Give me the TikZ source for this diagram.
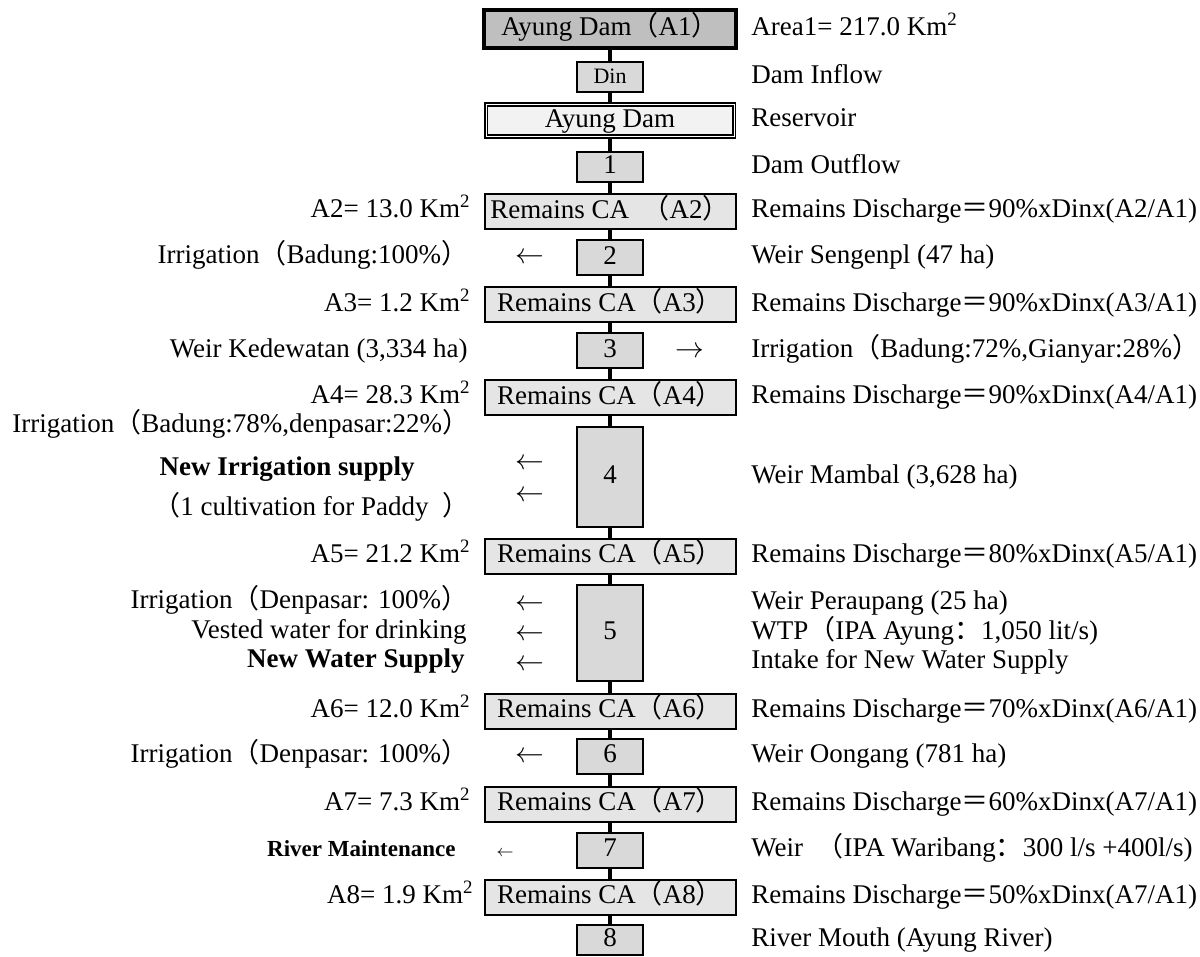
\documentclass[tikz,border=0pt]{standalone}
\usepackage{fontspec}
\setmainfont{Liberation Serif}
\newfontfamily\cjk{Noto Sans CJK SC}
\newcommand{\zkl}{{\cjk （}}
\newcommand{\zkr}{{\cjk ）}}
\newcommand{\zkre}{{\cjk ）}\kern-.5em}
\newcommand{\zeq}{{\cjk ＝}}
\newcommand{\zco}{{\cjk ：}}
\newcommand{\sqkm}{Km\textsuperscript{2}}

\begin{document}
\begin{tikzpicture}[x=0.5pt,y=-0.5pt,font=\fontsize{13.5}{16}\selectfont]
   \tikzstyle{box}=[draw,line width=1pt,inner sep=0pt,minimum width=125.5pt,minimum height=17.5pt,
                    text height=.86em,text depth=.2em,fill=gray!20]
   \tikzstyle{gate}=[box,minimum width=33pt,fill=gray!30]
   \tikzstyle{lbl}=[inner sep=0pt,text height=.86em,text depth=.2em]
   \tikzstyle{trunk}=[line width=2.3pt]

   \useasboundingbox (0,0) rectangle (1200,957);

   % main column
   \node[box,line width=2pt,fill=gray!50,minimum width=126pt,minimum height=19pt] (A1) at (610,29) {Ayung Dam\zkl A1\zkr};
   \node[gate,minimum height=15pt,font=\fontsize{11}{13}\selectfont] (Din) at (610,77) {Din};
   \node[box,fill=gray!10,double,line width=.9pt,double distance=.35pt,minimum width=124pt,minimum height=16pt] (Dam) at (610,120.5) {Ayung Dam};
   \node[gate,minimum height=15pt] (G1) at (610,167) {1};
   \node[box] (C2) at (610,211.5) {Remains CA \ \zkl A2\zkr};
   \node[gate,minimum height=17.5pt] (G2) at (610,257.5) {2};
   \node[box] (C3) at (610,305) {Remains CA\zkl A3\zkr};
   \node[gate] (G3) at (610,351) {3};
   \node[box] (C4) at (610,397.5) {Remains CA\zkl A4\zkr};
   \node[gate,minimum height=50pt] (G4) at (610,477) {4};
   \node[box] (C5) at (610,556) {Remains CA\zkl A5\zkr};
   \node[gate,minimum height=48pt] (G5) at (610,633) {5};
   \node[box] (C6) at (610,711) {Remains CA\zkl A6\zkr};
   \node[gate] (G6) at (610,756) {6};
   \node[box] (C7) at (610,804) {Remains CA\zkl A7\zkr};
   \node[gate] (G7) at (610,850) {7};
   \node[box] (C8) at (610,897) {Remains CA\zkl A8\zkr};
   \node[gate,minimum height=15pt] (G8) at (610,940) {8};

   \path[trunk] (A1) edge (Din)
         (Din) edge (Dam)
         (Dam) edge (G1)
         (G1) edge (C2)
         (C2) edge (G2)
         (G2) edge (C3)
         (C3) edge (G3)
         (G3) edge (C4)
         (C4) edge (G4)
         (G4) edge (C5)
         (C5) edge (G5)
         (G5) edge (C6)
         (C6) edge (G6)
         (G6) edge (C7)
         (C7) edge (G7)
         (G7) edge (C8)
         (C8) edge (G8);

   % right side
   \node[lbl,anchor=west] (R1) at (751,29) {Area1= 217.0 \sqkm};
   \node[lbl,anchor=west] (R2) at (751,77) {Dam Inflow};
   \node[lbl,anchor=west] (R3) at (751,120) {Reservoir};
   \node[lbl,anchor=west] (R4) at (751,167) {Dam Outflow};
   \node[lbl,anchor=west] (R5) at (751,211) {Remains Discharge\zeq 90\%xDinx(A2/A1)};
   \node[lbl,anchor=west] (R6) at (751,257) {Weir Sengenpl (47 ha)};
   \node[lbl,anchor=west] (R7) at (751,305) {Remains Discharge\zeq 90\%xDinx(A3/A1)};
   \node[lbl,anchor=west] (R8) at (751,351) {Irrigation\zkl Badung:72\%,Gianyar:28\%\zkre};
   \node[lbl,anchor=west] (R9) at (751,397) {Remains Discharge\zeq 90\%xDinx(A4/A1)};
   \node[lbl,anchor=west] (R10) at (751,477) {Weir Mambal (3,628 ha)};
   \node[lbl,anchor=west] (R11) at (751,556) {Remains Discharge\zeq 80\%xDinx(A5/A1)};
   \node[lbl,anchor=west] (R12) at (751,603) {Weir Peraupang (25 ha)};
   \node[lbl,anchor=west] (R13) at (751,633) {WTP\zkl IPA Ayung\zco 1,050 lit/s)};
   \node[lbl,anchor=west] (R14) at (751,662) {Intake for New Water Supply};
   \node[lbl,anchor=west] (R15) at (751,711) {Remains Discharge\zeq 70\%xDinx(A6/A1)};
   \node[lbl,anchor=west] (R16) at (751,756) {Weir Oongang (781 ha)};
   \node[lbl,anchor=west] (R17) at (751,804) {Remains Discharge\zeq 60\%xDinx(A7/A1)};
   \node[lbl,anchor=west] (R18) at (751,850) {Weir \ \zkl IPA Waribang\zco 300 l/s +400l/s)};
   \node[lbl,anchor=west] (R19) at (751,897) {Remains Discharge\zeq 50\%xDinx(A7/A1)};
   \node[lbl,anchor=west] (R20) at (751,940) {River Mouth (Ayung River)};

   % left side
   \node[lbl,anchor=east] (L2) at (471,211) {A2= 13.0 \sqkm};
   \node[lbl,anchor=east] (L3) at (471,305) {A3= 1.2 \sqkm};
   \node[lbl,anchor=east] (L4) at (471,397) {A4= 28.3 \sqkm};
   \node[lbl,anchor=east] (L5) at (471,556) {A5= 21.2 \sqkm};
   \node[lbl,anchor=east] (L6) at (471,711) {A6= 12.0 \sqkm};
   \node[lbl,anchor=east] (L7) at (471,804) {A7= 7.3 \sqkm};
   \node[lbl,anchor=east] (L8) at (474,897) {A8= 1.9 \sqkm};

   \node[lbl,anchor=east] (W2) at (455,257) {Irrigation\zkl Badung:100\%\zkre};
   \node[lbl,anchor=east] (W3) at (468,351) {Weir Kedewatan (3,334 ha)};
   \node[lbl,anchor=east] (W4a) at (456,426) {Irrigation\zkl Badung:78\%,denpasar:22\%\zkre};
   \node[lbl,anchor=east,font=\fontsize{13.5}{16}\selectfont\bfseries] (W4b) at (415,469) {New Irrigation supply};
   \node[lbl,anchor=east] (W4c) at (456,509) {\zkl 1 cultivation for Paddy \ \zkre};
   \node[lbl,anchor=east] (W5a) at (455,602) {Irrigation\zkl Denpasar: 100\%\zkre};
   \node[lbl,anchor=east] (W5b) at (467,632) {Vested water for drinking};
   \node[lbl,anchor=east,font=\fontsize{13.5}{16}\selectfont\bfseries] (W5c) at (465,661) {New Water Supply};
   \node[lbl,anchor=east] (W6) at (455,756) {Irrigation\zkl Denpasar: 100\%\zkre};
   \node[lbl,anchor=east,font=\fontsize{11.5}{14}\selectfont\bfseries] (W7) at (456,850) {River Maintenance};

   % flow marks
   \node[lbl] (F2) at (530,257) {$\leftarrow$};
   \node[lbl] (F3) at (690,351) {$\rightarrow$};
   \node[lbl] (F4a) at (530,463) {$\leftarrow$};
   \node[lbl] (F4b) at (530,495) {$\leftarrow$};
   \node[lbl] (F5a) at (530,604) {$\leftarrow$};
   \node[lbl] (F5b) at (530,634) {$\leftarrow$};
   \node[lbl] (F5c) at (530,664) {$\leftarrow$};
   \node[lbl] (F6) at (530,756) {$\leftarrow$};
   \node[lbl,font=\fontsize{8}{10}\selectfont] (F7) at (505,850) {$\leftarrow$};
\end{tikzpicture}
\end{document}
